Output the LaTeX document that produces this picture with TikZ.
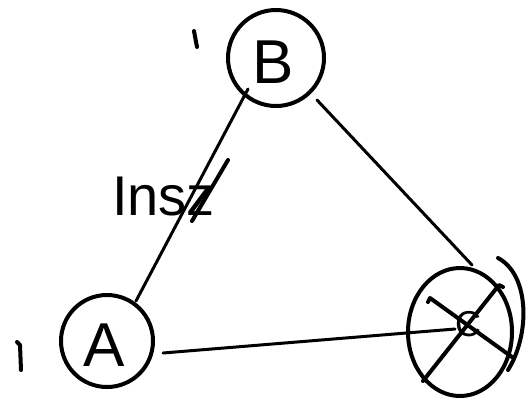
\documentclass[tikz,border=0pt]{standalone}
\usepackage{fontspec}
\setmainfont{Liberation Sans}
\usetikzlibrary{shapes.geometric}
\begin{document}
\begin{tikzpicture}[x=1pt,y=-1pt,
  stroke/.style={line width=4pt,line cap=round,line join=round,black},
  letter/.style={font=\fontsize{62}{62}\selectfont,inner sep=0pt}]
\useasboundingbox (0,0) rectangle (529,400);
% nodes
\node[stroke,draw,circle,minimum size=96pt] (B) at (276,58) {};
\node[letter] at (273,62) {B};
\node[stroke,draw,circle,minimum size=92pt] (A) at (107,341) {};
\node[letter] at (104,345) {A};
\node[stroke,draw,ellipse,minimum width=104pt,minimum height=128pt] (C) at (460,332) {};
\node[letter,font=\fontsize{36}{36}\selectfont] (Cl) at (468,324) {C};
% marks
\draw[stroke] (194,31) -- (197,47);
\draw[stroke] (17,342) -- (20,345) -- (21,370);
% cross over C
\draw[stroke] (423,381) -- (499,285) -- (503,287);
\draw[stroke] (428,302) -- (430,298) -- (512,357);
% extra arc right of C
\draw[stroke] (498,258) .. controls (530,275) and (530,335) .. (508,370);
% connectors
\coordinate (Bsw) at (248,89);
\coordinate (Ane) at (136,301);
\coordinate (Bse) at (317,100);
\coordinate (Cn) at (472,265);
\coordinate (Ae) at (163,353);
\coordinate (Cw) at (455,329);
\draw[stroke,line width=3pt] (Bsw) -- (Ane);
\draw[stroke,line width=3pt] (Bse) -- (Cn);
\draw[stroke,line width=3pt] (Ae) -- (Cw);
% label
\node[font=\fontsize{56}{56}\selectfont,inner sep=0pt,anchor=base west] (L) at (112,215) {Insz};
\draw[stroke] (192,221) -- (228,160);
\end{tikzpicture}
\end{document}
